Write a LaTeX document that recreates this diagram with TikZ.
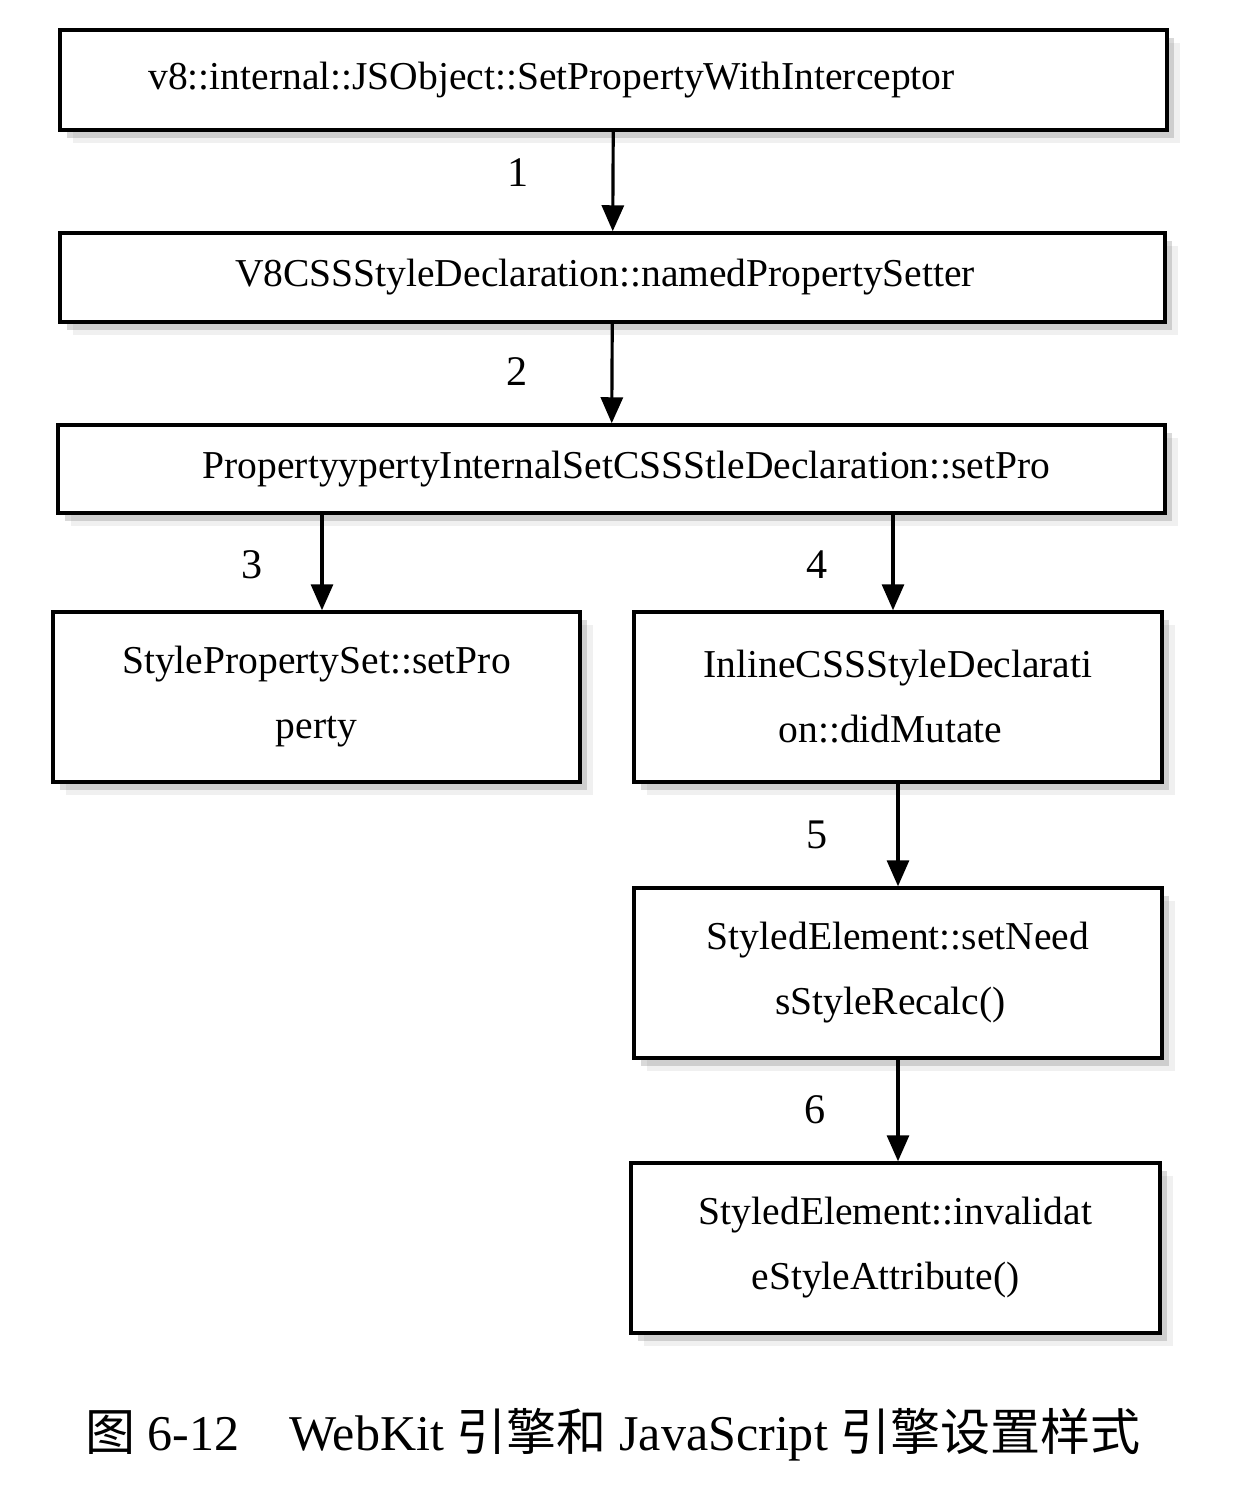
\documentclass[tikz,border=0pt]{standalone}
\usepackage{fontspec}
\setmainfont{Liberation Serif}
\newfontfamily\cjkfont{Noto Sans CJK SC}
\usetikzlibrary{arrows.meta,shadows}
\def\callbox{\node[draw, line width=2pt, fill=white, align=center, inner sep=0pt,
  drop shadow={shadow xshift=2.6mm, shadow yshift=-2.6mm, opacity=0.12},
  drop shadow={shadow xshift=1.4mm, shadow yshift=-1.6mm, opacity=0.3},
  font=\fontsize{22.5}{37}\selectfont]}
\def\callarrow{\draw[line width=1.8pt, -{Triangle[length=5.2mm,width=4.4mm]}]}
\def\stepno{\node[font=\fontsize{24}{28}\selectfont]}

\begin{document}
\begin{tikzpicture}[x=0.02cm,y=-0.02cm]
\useasboundingbox (0,0) rectangle (1240,1492);
\callbox[minimum width=22.14cm, minimum height=2cm] (setwith) at (613.5,80)
  {v8::internal::JSObject::SetPropertyWithInterceptor\hspace*{2.48cm}};
\callbox[minimum width=22.1cm, minimum height=1.78cm] (named) at (612.5,277.5)
  {V8CSSStyleDeclaration::namedPropertySetter\hspace*{0.3cm}};
\callbox[minimum width=22.14cm, minimum height=1.76cm] (internal) at (611.5,469)
  {\hspace*{0.6cm}PropertyypertyInternalSetCSSStleDeclaration::setPro};
\callbox[minimum width=10.54cm, minimum height=3.4cm] (setprop) at (316.5,697)
  {StylePropertySet::setPro\\perty};
\callbox[minimum width=10.56cm, minimum height=3.4cm] (mutate) at (898,697)
  {InlineCSSStyleDeclarati\\on::didMutate\hspace*{0.3cm}};
\callbox[minimum width=10.56cm, minimum height=3.4cm] (recalc) at (898,973)
  {StyledElement::setNeed\\sStyleRecalc()\hspace*{0.3cm}};
\callbox[minimum width=10.58cm, minimum height=3.4cm] (invalid) at (895.5,1248)
  {StyledElement::invalidat\\eStyleAttribute()\hspace*{0.4cm}};
\callarrow (setwith) -- (named);
\callarrow (named) -- (internal);
\callarrow ([xshift=0.11cm]setprop.north |- internal.south) -- ([xshift=0.11cm]setprop.north);
\callarrow ([xshift=-0.1cm]mutate.north |- internal.south) -- ([xshift=-0.1cm]mutate.north);
\callarrow (mutate) -- (recalc);
\callarrow (recalc.south) -- (recalc.south |- invalid.north);
\stepno (one) at (518,173) {1};
\stepno (two) at (517,372) {2};
\stepno (three) at (252,565) {3};
\stepno (four) at (817,565) {4};
\stepno (five) at (817,835) {5};
\stepno (six) at (815,1110) {6};
\node[font=\fontsize{28.5}{32}\selectfont] (caption) at (613,1435)
  {{\cjkfont 图} 6-12\quad WebKit {\cjkfont 引擎和} JavaScript {\cjkfont 引擎设置样式}};
\end{tikzpicture}
\end{document}
